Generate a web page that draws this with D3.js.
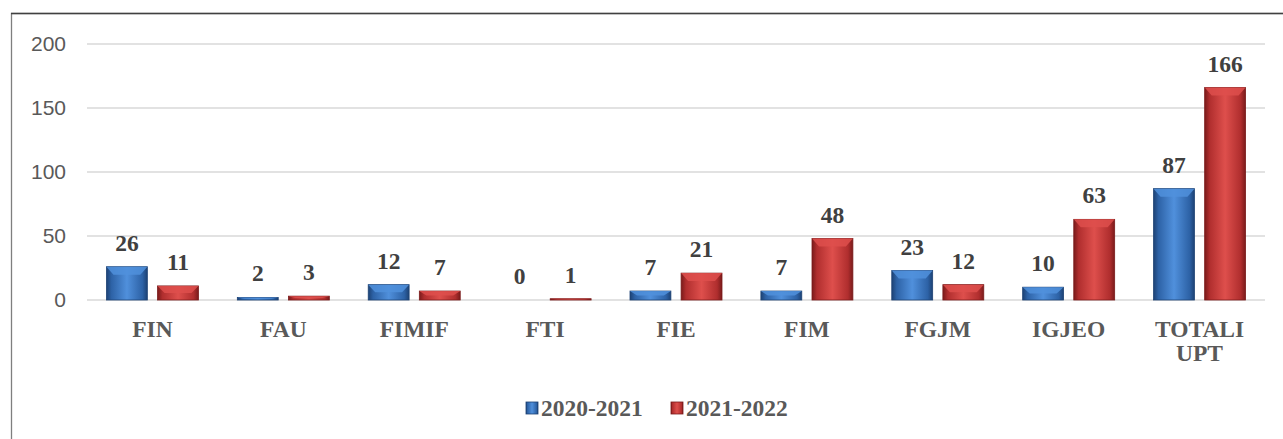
<!DOCTYPE html>
<html>
<head>
<meta charset="utf-8">
<script src="https://cdn.jsdelivr.net/npm/d3@7.9.0/dist/d3.min.js"></script>
<style>
  body { margin: 0; background: #fff; }
  svg { display: block; }
</style>
</head>
<body>
<svg id="chart" width="1283" height="439"></svg>
<script>
const categories = ["FIN", "FAU", "FIMIF", "FTI", "FIE", "FIM", "FGJM", "IGJEO", "TOTALI UPT"];
const series = ["2020-2021", "2021-2022"];
const values2020 = [26, 2, 12, 0, 7, 7, 23, 10, 87];
const values2021 = [11, 3, 7, 1, 21, 48, 12, 63, 166];
const yTicks = [0, 50, 100, 150, 200];

const svg = d3.select('#chart');
const colors = { "2020-2021": ["#2d62a6", "#5090dc", "#1d4274"], "2021-2022": ["#b02e2e", "#de4f4c", "#7a1b1b"] };
const serif = "'Liberation Serif', 'Times New Roman', serif";

// chart border
svg.append('rect').attr('x', 11.5).attr('y', 13.5).attr('width', 1290).attr('height', 440)
  .attr('fill', 'none').attr('stroke', '#7f7f7f').attr('stroke-width', 1.3);
svg.append('line').attr('x1', 11).attr('x2', 1283).attr('y1', 13.5).attr('y2', 13.5)
  .attr('stroke', '#404040').attr('stroke-width', 1.3);

const defs = svg.append('defs');
series.forEach((s, i) => {
  const g = defs.append('linearGradient').attr('id', 'g' + i).attr('x1', 0).attr('x2', 1).attr('y1', 0).attr('y2', 0);
  g.append('stop').attr('offset', '0%').attr('stop-color', colors[s][2]);
  g.append('stop').attr('offset', '12%').attr('stop-color', colors[s][0]);
  g.append('stop').attr('offset', '50%').attr('stop-color', colors[s][1]);
  g.append('stop').attr('offset', '88%').attr('stop-color', colors[s][0]);
  g.append('stop').attr('offset', '100%').attr('stop-color', colors[s][2]);
});

const y = d3.scaleLinear().domain([0, 200]).range([300, 44]);
const x0 = d3.scaleBand().domain(categories).range([87, 1265]);
const x1 = d3.scaleBand().domain(series).range([-46, 46]).paddingInner(0.2);

// gridlines
svg.append('g').selectAll('line').data(yTicks).join('line')
  .attr('x1', 87).attr('x2', 1265)
  .attr('y1', d => y(d)).attr('y2', d => y(d))
  .attr('stroke', '#d9d9d9').attr('stroke-width', 1.5);

// y tick labels
svg.append('g').selectAll('text').data(yTicks).join('text')
  .attr('x', 66).attr('y', d => y(d)).attr('dy', '0.35em')
  .attr('text-anchor', 'end')
  .attr('font-family', "'Liberation Sans', Arial, sans-serif").attr('font-size', 21)
  .attr('fill', '#595959').text(d => d);

const data = [];
categories.forEach((c, i) => {
  data.push({ cat: c, s: series[0], v: values2020[i], si: 0 });
  data.push({ cat: c, s: series[1], v: values2021[i], si: 1 });
});

const bars = svg.append('g').selectAll('g').data(data).join('g')
  .attr('transform', d => `translate(${x0(d.cat) + x0.bandwidth() / 2 + x1(d.s)},0)`);

const bw = x1.bandwidth();
bars.filter(d => d.v > 0).append('rect')
  .attr('x', 0).attr('width', bw)
  .attr('y', d => y(d.v)).attr('height', d => y(0) - y(d.v))
  .attr('fill', d => `url(#g${d.si})`)
  .attr('stroke', d => colors[d.s][2]).attr('stroke-width', 0.8);

// top bevel highlight
bars.filter(d => d.v > 0).append('path')
  .attr('d', d => {
    const t = y(d.v), h = Math.min(8, (y(0) - t) / 2);
    return `M0,${t} L${bw},${t} L${bw - 7},${t + h} L7,${t + h} Z`;
  })
  .attr('fill', d => colors[d.s][1]).attr('opacity', 0.85);

// value labels
bars.append('text')
  .attr('x', bw / 2).attr('y', d => y(d.v) - 16)
  .attr('text-anchor', 'middle')
  .attr('font-family', serif)
  .attr('font-weight', 'bold').attr('font-size', 23.5)
  .attr('fill', '#404040').text(d => d.v);

// category labels
const cl = svg.append('g').selectAll('text').data(categories).join('text')
  .attr('x', d => x0(d) + x0.bandwidth() / 2).attr('y', 337)
  .attr('text-anchor', 'middle')
  .attr('font-family', serif)
  .attr('font-weight', 'bold').attr('font-size', 23.5)
  .attr('fill', '#595959');
cl.each(function(d) {
  const words = d.split(' ');
  const t = d3.select(this);
  words.forEach((w, i) => {
    t.append('tspan').attr('x', x0(d) + x0.bandwidth() / 2).attr('dy', i ? 24 : 0).text(w);
  });
});

// legend
const legendX = [526, 671];
const lg = svg.append('g').selectAll('g').data(series).join('g')
  .attr('transform', (d, i) => `translate(${legendX[i]},402)`);
lg.append('rect').attr('width', 12).attr('height', 12)
  .attr('fill', (d, i) => `url(#g${i})`).attr('stroke', d => colors[d][2]).attr('stroke-width', 0.8);
lg.append('text').attr('x', 15).attr('y', 14)
  .attr('font-family', serif)
  .attr('font-weight', 'bold').attr('font-size', 23.5)
  .attr('fill', '#595959').text(d => d);
</script>
</body>
</html>
